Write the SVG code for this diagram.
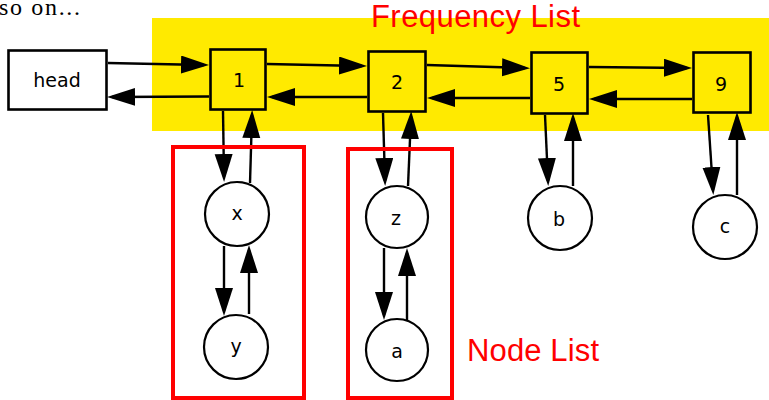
<svg xmlns="http://www.w3.org/2000/svg" width="769" height="400" viewBox="0 0 769 400">
  <style>
    .box { fill: #FFEA00; stroke: #000; stroke-width: 2.6; }
    .headbox { fill: #fff; stroke: #000; stroke-width: 2.6; }
    .circ { fill: #fff; stroke: #000; stroke-width: 2.2; }
    .lbl { font-family: "DejaVu Sans", sans-serif; font-size: 19px; fill: #000; text-anchor: middle; }
    .edge { fill: none; stroke: #000; stroke-width: 2.4; marker-end: url(#arr); }
    .redbox { fill: none; stroke: #FF0000; stroke-width: 4; }
    .redtxt { font-family: "Liberation Sans", Arial, sans-serif; font-size: 31px; fill: #FF0000; }
  </style>
  <defs>
    <marker id="arr" markerUnits="userSpaceOnUse" markerWidth="30" markerHeight="20" refX="23" refY="9" orient="auto" viewBox="0 0 30 20">
      <path d="M0,0 L28,9 L0,18 Z" fill="#000"/>
    </marker>
  </defs>
  <rect width="769" height="400" fill="#fff"/>
  <text x="-1" y="15" font-family="Liberation Serif, serif" font-size="24" textLength="81" fill="#000">so on...</text>
  <rect x="152" y="18" width="617" height="113" fill="#FFEA00"/>
  <text class="redtxt" x="371" y="27" textLength="209">Frequency List</text>
  <text class="redtxt" x="467" y="361" textLength="132">Node List</text>

  <g id="edges">
    <path class="edge" d="M108,63 L204,65"/>
    <path class="edge" d="M209,96.5 L112,97"/>
    <path class="edge" d="M267,64 L362,66"/>
    <path class="edge" d="M367,97 L272,97"/>
    <path class="edge" d="M427,65 L525,68"/>
    <path class="edge" d="M530,98 L432,98"/>
    <path class="edge" d="M589,67 L687,68"/>
    <path class="edge" d="M692,99 L594,99"/>
    <path class="edge" d="M223,111 L224,177"/>
    <path class="edge" d="M250,183 L252,115"/>
    <path class="edge" d="M383,113 L385,181"/>
    <path class="edge" d="M408,186 L411,116"/>
    <path class="edge" d="M545,115 L548,181"/>
    <path class="edge" d="M573,186 L573,118"/>
    <path class="edge" d="M708,115 L713,190"/>
    <path class="edge" d="M737,195 L737,117"/>
    <path class="edge" d="M224,246 L224,311"/>
    <path class="edge" d="M249,314 L249,250"/>
    <path class="edge" d="M384,248 L384,315"/>
    <path class="edge" d="M407,320 L407,253"/>
  </g>

  <g id="node-head"><rect class="headbox" x="8.5" y="50.5" width="98" height="59"/><text class="lbl" x="57" y="87">head</text></g>
  <g id="node-1"><rect class="box" x="210.5" y="49.5" width="55" height="60"/><text class="lbl" x="239" y="87">1</text></g>
  <g id="node-2"><rect class="box" x="368.5" y="51.5" width="57" height="60"/><text class="lbl" x="397" y="89">2</text></g>
  <g id="node-5"><rect class="box" x="531.5" y="52.5" width="56" height="61"/><text class="lbl" x="559" y="91">5</text></g>
  <g id="node-9"><rect class="box" x="693.5" y="52.5" width="57" height="60"/><text class="lbl" x="721" y="91">9</text></g>

  <g id="node-x"><circle class="circ" cx="237" cy="214" r="32"/><text class="lbl" x="237" y="220">x</text></g>
  <g id="node-y"><circle class="circ" cx="236" cy="347" r="32"/><text class="lbl" x="236" y="353">y</text></g>
  <g id="node-z"><circle class="circ" cx="397" cy="217" r="31"/><text class="lbl" x="396" y="225">z</text></g>
  <g id="node-a"><circle class="circ" cx="397" cy="350" r="31"/><text class="lbl" x="397" y="358">a</text></g>
  <g id="node-b"><circle class="circ" cx="560" cy="218" r="32"/><text class="lbl" x="559" y="226">b</text></g>
  <g id="node-c"><circle class="circ" cx="725" cy="227" r="32"/><text class="lbl" x="725" y="233">c</text></g>

  <g id="node-list-x-y"><rect class="redbox" x="173" y="147" width="131" height="251"/></g>
  <g id="node-list-z-a"><rect class="redbox" x="348" y="149" width="104" height="249"/></g>
</svg>
